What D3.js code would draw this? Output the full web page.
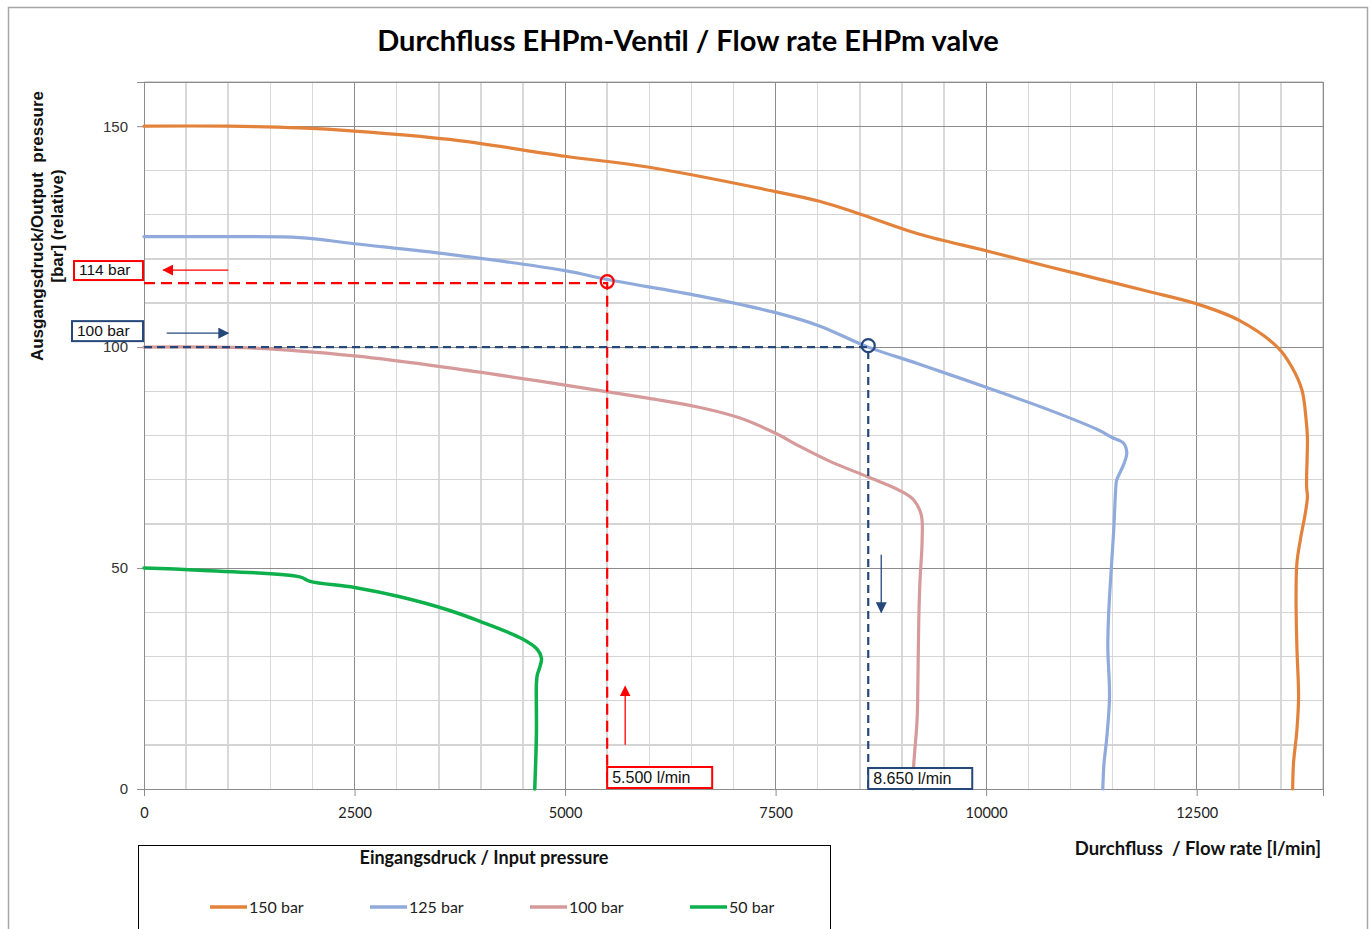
<!DOCTYPE html>
<html>
<head>
<meta charset="utf-8">
<script src="https://cdn.jsdelivr.net/npm/d3@7"></script>
<style>
  html, body { margin: 0; padding: 0; background: #fff; }
  svg { display: block; }
</style>
</head>
<body>
<svg id="chart" width="1372" height="929"></svg>
<script>
// ---------- DATA ----------
const seriesNames = ["150 bar", "125 bar", "100 bar", "50 bar"];
const seriesColors = ["#E3823A", "#8FAADB", "#D69A9A", "#0DB04B"];

// [flow l/min, output pressure bar]
const flow150 = [[0,150],[1000,150],[1850,149.6],[2500,148.9],[3630,147],[5000,143.2],[6000,140.7],[7500,135.2],[8020,133],[8490,130.2],[9200,125.6],[10000,121.8],[10745,118.2],[11340,115.4],[11930,112.6],[12500,109.8],[13000,106.1],[13470,99.8],[13630,95.5],[13750,90.3],[13800,83.5],[13815,79.6],[13805,68.5],[13815,66.1],[13790,62.4],[13730,56.3],[13690,51.1],[13680,43.4],[13690,32.1],[13710,20.8],[13690,13.3],[13650,5.9],[13640,0]];
const flow125 = [[0,125],[1000,125],[1850,124.8],[2500,123.4],[3630,121],[5000,117.3],[5500,115.3],[6590,111.6],[7500,107.8],[8020,104.8],[8600,100],[9200,96.2],[10000,90.9],[10745,85.8],[11340,81.2],[11490,79.6],[11630,78.3],[11670,76],[11630,73.3],[11550,69.9],[11540,68.3],[11515,58.6],[11490,51.1],[11455,39.8],[11445,32.1],[11465,20.8],[11430,11.1],[11400,5.9],[11385,0]];
const flow100 = [[0,100],[1260,99.8],[2500,98],[3630,95.3],[5000,91.4],[6000,88.4],[6590,86.4],[7070,84],[7500,80.5],[7780,77.6],[8140,74.2],[8600,70.6],[8970,67.6],[9140,65.4],[9230,62],[9240,56.3],[9215,47.3],[9200,38.2],[9190,24.7],[9180,15.6],[9140,5.4],[9130,0]];
const flow50 = [[0,50],[660,49.5],[1850,48],[1970,47],[2500,45.6],[3040,43.5],[3630,40.4],[3980,38],[4490,34],[4670,31.6],[4720,29.6],[4700,27.6],[4670,25.8],[4660,24],[4660,12.7],[4640,0]];
const seriesData = [flow150, flow125, flow100, flow50];

const xTicks = [0, 2500, 5000, 7500, 10000, 12500];
const yTicks = [0, 50, 100, 150];

// annotation reading points
const markRed = {flow: 5500, pressure: 114.5, flowLabel: "5.500 l/min", pressureLabel: "114 bar"};
const markBlue = {flow: 8600, pressure: 100, flowLabel: "8.650 l/min", pressureLabel: "100 bar"};

const titleText = "Durchfluss EHPm-Ventil / Flow rate EHPm valve";
const yTitle1 = "Ausgangsdruck/Output  pressure";
const yTitle2 = "[bar] (relative)";
const xTitle = "Durchfluss  / Flow rate [l/min]";
const legendTitle = "Eingangsdruck / Input pressure";

// ---------- DRAW ----------
const svg = d3.select("#chart");
const L = 144, R = 1323, T = 82, B = 789;
const x = d3.scaleLinear().domain([0, 14000]).range([L, R]);
const y = d3.scaleLinear().domain([0, 160]).range([B, T]);

const navy = "#25477A";
const red = "#FF0000";

svg.append("rect").attr("x", 8.5).attr("y", 7.5).attr("width", 1359).attr("height", 940)
  .attr("fill", "#fff").attr("stroke", "#A6A6A6").attr("stroke-width", 1.5);

// title
svg.append("text").attr("x", 688).attr("y", 51).attr("text-anchor", "middle")
  .attr("font-family", "Lato, 'Open Sans', sans-serif").attr("font-weight", "bold")
  .attr("font-size", 29).attr("fill", "#000").text(titleText);

// grid
const g = svg.append("g");
d3.range(0, 14001, 500).forEach(v => {
  const major = v % 2500 === 0;
  g.append("line").attr("x1", x(v)).attr("x2", x(v)).attr("y1", T).attr("y2", B)
    .attr("stroke", major ? "#8C8C8C" : "#D9D9D9").attr("stroke-width", major ? 1 : 1.5)
    .attr("shape-rendering", "crispEdges");
});
d3.range(0, 161, 10).forEach(v => {
  const major = v % 50 === 0;
  g.append("line").attr("x1", L).attr("x2", R).attr("y1", y(v)).attr("y2", y(v))
    .attr("stroke", major ? "#8C8C8C" : "#D4D4D4").attr("stroke-width", major ? 1 : 1.5)
    .attr("shape-rendering", "crispEdges");
});
g.append("rect").attr("x", L).attr("y", T).attr("width", R - L).attr("height", B - T)
  .attr("fill", "none").attr("stroke", "#8C8C8C").attr("stroke-width", 1).attr("shape-rendering", "crispEdges");

// axes
const xAxis = d3.axisBottom(x).tickValues(xTicks).tickSize(7).tickPadding(12).tickFormat(d3.format("d"));
const xg = svg.append("g").attr("transform", `translate(0,${B})`).call(xAxis);
xg.select(".domain").attr("stroke", "#8C8C8C");
xg.selectAll(".tick line").attr("stroke", "#8C8C8C");
xg.selectAll(".tick text").attr("font-family", "Lato, sans-serif").attr("font-size", 14.5).attr("fill", "#222");

const yAxis = d3.axisLeft(y).tickValues(yTicks).tickSize(7).tickPadding(9).tickFormat(d3.format("d"));
const yg = svg.append("g").attr("transform", `translate(${L},0)`).call(yAxis);
yg.select(".domain").attr("stroke", "#8C8C8C");
yg.selectAll(".tick line").attr("stroke", "#8C8C8C");
yg.selectAll(".tick text").attr("font-family", "'Liberation Sans', Arial, sans-serif").attr("font-size", 15).attr("fill", "#333");

// axis titles
const yt = svg.append("text").attr("transform", "translate(43,226) rotate(-90)")
  .attr("text-anchor", "middle").attr("font-family", "'Liberation Sans', Arial, sans-serif")
  .attr("font-weight", "bold").attr("font-size", 17).attr("fill", "#111").style("white-space", "pre");
yt.append("tspan").attr("x", 0).attr("dy", 0).text(yTitle1);
yt.append("tspan").attr("x", 0).attr("dy", 20).text(yTitle2);

svg.append("text").attr("x", 1321).attr("y", 855).attr("text-anchor", "end")
  .attr("font-family", "Lato, sans-serif").attr("font-weight", "bold").attr("font-size", 18.5)
  .style("white-space", "pre").attr("fill", "#111").text(xTitle);

// curves
const lineGen = d3.line().x(d => x(d[0])).y(d => y(d[1])).curve(d3.curveCatmullRom.alpha(0.5));
seriesData.forEach((data, i) => {
  svg.append("path").datum(data).attr("d", lineGen).attr("fill", "none")
    .attr("stroke", seriesColors[i]).attr("stroke-width", i === 3 ? 3.5 : 3.2)
    .attr("stroke-linejoin", "round").attr("stroke-linecap", "round");
});

// defs for arrowheads
const defs = svg.append("defs");
[["arrRed", red], ["arrNavy", navy]].forEach(([id, c]) => {
  defs.append("marker").attr("id", id).attr("viewBox", "0 0 10 10").attr("refX", 9).attr("refY", 5)
    .attr("markerWidth", 11).attr("markerHeight", 11).attr("markerUnits", "userSpaceOnUse")
    .attr("orient", "auto").append("path").attr("d", "M0,0 L10,5 L0,10 Z").attr("fill", c);
});

function annotate(m, color, dash) {
  const px = x(m.flow), py = y(m.pressure);
  svg.append("path").attr("d", `M${L},${py} H${px} V${B}`).attr("fill", "none")
    .attr("stroke", color).attr("stroke-width", 2.2).attr("stroke-dasharray", dash);
  svg.append("circle").attr("cx", px).attr("cy", py - 1.5).attr("r", 6.5).attr("fill", "none")
    .attr("stroke", color).attr("stroke-width", 2.2);
}
annotate(markRed, red, "11,6");
annotate(markBlue, navy, "8,5");

function labelBox(x0, y0, w, h, color, txt, fs) {
  svg.append("rect").attr("x", x0).attr("y", y0).attr("width", w).attr("height", h)
    .attr("fill", "#fff").attr("stroke", color).attr("stroke-width", 2);
  svg.append("text").attr("x", x0 + 5).attr("y", y0 + h - 5)
    .attr("font-family", "'Liberation Sans', Arial, sans-serif").attr("font-size", fs)
    .attr("fill", "#111").text(txt);
}
// pressure boxes (left of axis)
labelBox(x(0) - 70, y(markRed.pressure) - 22, 69, 19, red, markRed.pressureLabel, 15.5);
labelBox(x(0) - 72, y(markBlue.pressure) - 26, 71, 20, navy, markBlue.pressureLabel, 15.5);
// flow boxes (at bottom)
labelBox(x(markRed.flow), B - 22, 105, 21, red, markRed.flowLabel, 16);
labelBox(x(markBlue.flow), B - 21, 104, 21, navy, markBlue.flowLabel, 16);

// arrows
svg.append("line").attr("x1", x(1000)).attr("x2", x(230)).attr("y1", y(markRed.pressure) - 13).attr("y2", y(markRed.pressure) - 13)
  .attr("stroke", red).attr("stroke-width", 1.3).attr("marker-end", "url(#arrRed)");
svg.append("line").attr("x1", x(270)).attr("x2", x(1000)).attr("y1", y(markBlue.pressure) - 14).attr("y2", y(markBlue.pressure) - 14)
  .attr("stroke", navy).attr("stroke-width", 1.3).attr("marker-end", "url(#arrNavy)");
svg.append("line").attr("x1", x(markRed.flow) + 18).attr("x2", x(markRed.flow) + 18).attr("y1", y(10)).attr("y2", y(23.2))
  .attr("stroke", red).attr("stroke-width", 1.3).attr("marker-end", "url(#arrRed)");
svg.append("line").attr("x1", x(markBlue.flow) + 13).attr("x2", x(markBlue.flow) + 13).attr("y1", y(53)).attr("y2", y(40))
  .attr("stroke", navy).attr("stroke-width", 1.3).attr("marker-end", "url(#arrNavy)");

// legend
svg.append("rect").attr("x", 138.5).attr("y", 845.5).attr("width", 692).attr("height", 120)
  .attr("fill", "#fff").attr("stroke", "#000").attr("stroke-width", 1);
svg.append("text").attr("x", 484).attr("y", 864).attr("text-anchor", "middle")
  .attr("font-family", "Lato, sans-serif").attr("font-weight", "bold").attr("font-size", 18)
  .attr("fill", "#111").text(legendTitle);
const legX = [210, 370, 530, 690];
seriesNames.forEach((n, i) => {
  svg.append("line").attr("x1", legX[i]).attr("x2", legX[i] + 37).attr("y1", 907).attr("y2", 907)
    .attr("stroke", seriesColors[i]).attr("stroke-width", 3.5);
  svg.append("text").attr("x", legX[i] + 39).attr("y", 912.5)
    .attr("font-family", "Lato, sans-serif").attr("font-size", 16).attr("fill", "#222").text(n);
});
</script>
</body>
</html>
